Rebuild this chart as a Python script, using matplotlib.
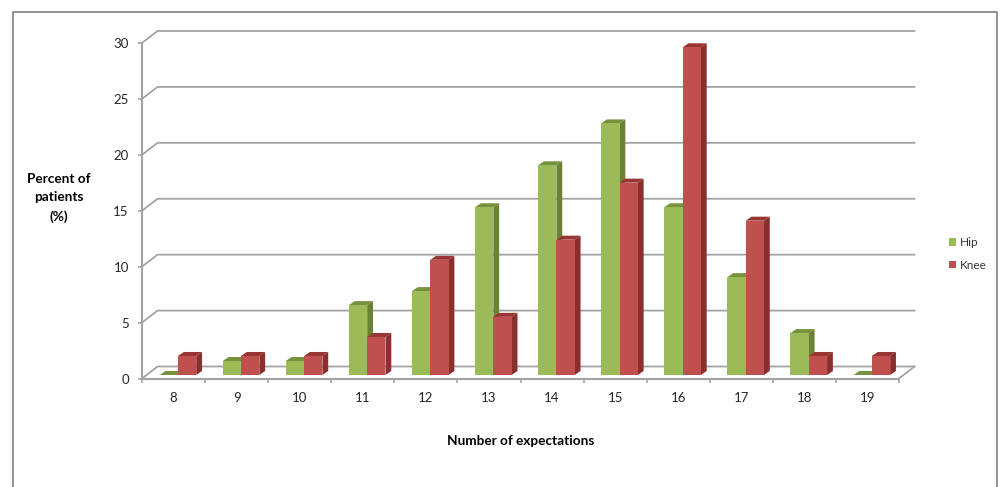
import matplotlib
matplotlib.use('Agg')
import matplotlib.pyplot as plt
from matplotlib.patches import Patch, Polygon, Rectangle

# Percent of patients per number of expectations
categories = ['8', '9', '10', '11', '12', '13', '14', '15', '16', '17', '18', '19']
hip = [0, 1.25, 1.25, 6.25, 7.5, 15, 18.75, 22.5, 15, 8.75, 3.75, 0]
knee = [1.7, 1.7, 1.7, 3.4, 10.3, 5.2, 12.1, 17.2, 29.3, 13.8, 1.7, 1.7]
y_ticks = [0, 5, 10, 15, 20, 25, 30]

W, H = 1002, 487
GRID = '#a3a3a3'

plt.rcParams['font.family'] = ['Lato', 'DejaVu Sans']

fig = plt.figure(figsize=(W / 100, H / 100), dpi=100)

# Plot area of the front plane
left, right, top, bottom = 142, 899, 43, 378.5
ax = fig.add_axes([left / W, 1 - bottom / H, (right - left) / W, (bottom - top) / H])
ax.set_xlim(0, 12)
ax.set_ylim(0, 30)
ax.patch.set_visible(False)

# Outer chart frame, open at the bottom edge of the figure
frame_x = [13 / W, 13 / W, 997 / W, 997 / W]
frame_y = [0, 1 - 11.5 / H, 1 - 11.5 / H, 0]
fig.add_artist(plt.Line2D(frame_x, frame_y, color='#808080', lw=1.2))

# Depth of the fake 3D box and of the bars, in data units
px_x = 12 / (right - left)
px_y = 30 / (bottom - top)
wall_dx, wall_dy = 15.5 * px_x, 12 * px_y
bar_dx, bar_dy = 5.8 * px_x, 4 * px_y
floor = 3.5 * px_y
bar_w = 18.3 * px_x
shift = 4.4 * px_x

# Back wall gridlines with the diagonal joining them to the front axis
for v in y_ticks:
    ax.plot([0, wall_dx, 12 + wall_dx], [v, v + wall_dy, v + wall_dy],
            color=GRID, lw=1.3, clip_on=False, zorder=1)
ax.plot([12, 12 + wall_dx], [0, wall_dy], color=GRID, lw=1.3, clip_on=False, zorder=1)


def draw_bars(values, x_offset, face, side, roof):
    for i, v in enumerate(values):
        x0 = i + 0.5 + x_offset
        x1 = x0 + bar_w
        y0 = floor
        y1 = floor + v
        ax.add_patch(Polygon([(x0, y1), (x1, y1), (x1 + bar_dx, y1 + bar_dy), (x0 + bar_dx, y1 + bar_dy)],
                             closed=True, fc=roof, ec='none', clip_on=False, zorder=3))
        if v > 0:
            ax.add_patch(Polygon([(x1, y0), (x1 + bar_dx, y0 + bar_dy), (x1 + bar_dx, y1 + bar_dy), (x1, y1)],
                                 closed=True, fc=side, ec='none', clip_on=False, zorder=3))
            ax.add_patch(Rectangle((x0, y0), bar_w, v, fc=face, ec='none', clip_on=False, zorder=3))


draw_bars(hip, shift - bar_w, '#9bbb59', '#6a8136', '#76923c')
draw_bars(knee, shift, '#c0504d', '#8a2f2d', '#983533')

# Axes
for name in ['top', 'right']:
    ax.spines[name].set_visible(False)
for name in ['left', 'bottom']:
    ax.spines[name].set_color(GRID)
    ax.spines[name].set_linewidth(1.5)
ax.set_xticks(range(13))
ax.set_xticklabels([])
ax.set_xticks([i + 0.5 for i in range(12)], minor=True)
ax.set_xticklabels(categories, minor=True)
ax.set_yticks(y_ticks)
ax.tick_params(axis='x', which='major', length=3, width=1.2, color=GRID)
ax.tick_params(axis='x', which='minor', length=0, pad=10, labelsize=9.5, labelcolor='#262626')
ax.tick_params(axis='y', length=3, width=1.2, color=GRID, pad=6.5, labelsize=9.5, labelcolor='#262626')

# Axis titles
fig.text(59 / W, 1 - 198 / H, 'Percent of\npatients\n(%)', ha='center', va='center',
         fontsize=9.8, fontweight='bold', linespacing=1.65, color='black')
fig.text(521 / W, 1 - 441 / H, 'Number of expectations', ha='center', va='center',
         fontsize=9.8, fontweight='bold', color='black')

# Legend
handles = [Patch(fc='#9bbb59', label='Hip'), Patch(fc='#c0504d', label='Knee')]
fig.legend(handles=handles, loc='center left', bbox_to_anchor=(938.4 / W, 1 - 254 / H), frameon=False,
           fontsize=8.5, handlelength=0.6, handleheight=0.6, handletextpad=0.34,
           labelspacing=1.0, labelcolor='#333333')

fig.savefig('out.png', dpi=100)
